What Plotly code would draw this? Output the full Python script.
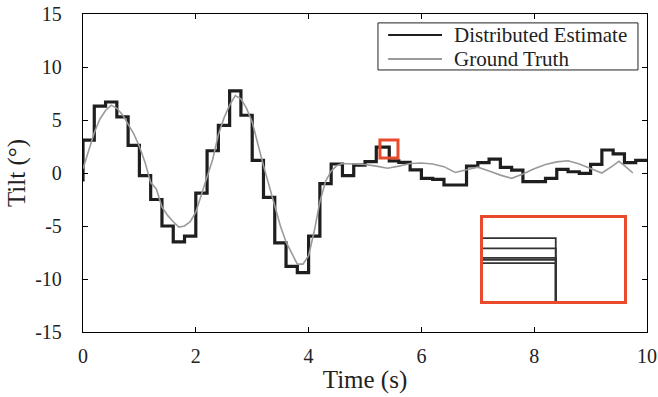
import plotly.graph_objects as go

# ---- data ----
est_t = [0.0, 0.0, 0.2, 0.4, 0.6, 0.8, 1.0, 1.2, 1.4, 1.6, 1.8, 2.0, 2.2, 2.4, 2.6, 2.8,
         3.0, 3.2, 3.4, 3.6, 3.8, 4.0, 4.2, 4.4, 4.6, 4.8, 5.0, 5.2, 5.43, 5.6, 5.8,
         6.0, 6.2, 6.4, 6.6, 6.8, 7.0, 7.2, 7.4, 7.6, 7.8, 8.0, 8.2, 8.4, 8.6, 8.8,
         9.0, 9.2, 9.4, 9.6, 9.8, 10.0]
est_v = [-0.8, 3.1, 6.3, 6.7, 5.3, 2.6, -0.25, -2.5, -5.0, -6.5, -5.95, -1.9, 2.1, 4.5,
         7.75, 5.45, 1.2, -2.3, -6.6, -8.8, -9.4, -5.95, -1.0, 0.85, -0.25, 0.75, 1.07,
         2.45, 1.15, 1.0, 0.3, -0.5, -0.6, -1.13, -1.13, 0.66, 0.97, 1.3, 0.54, 0.28,
         -0.82, -0.82, -0.5, 0.35, 0.12, -0.03, 0.82, 2.17, 1.8, 0.97, 1.2, 1.2]

gt_t = [0.0, 0.1, 0.2, 0.3, 0.4, 0.5, 0.6, 0.7, 0.8, 0.9, 1.0, 1.1, 1.2, 1.3, 1.4, 1.5,
        1.6, 1.7, 1.8, 1.9, 2.0, 2.1, 2.2, 2.3, 2.4, 2.5, 2.6, 2.7, 2.8, 2.9, 3.0, 3.1,
        3.2, 3.3, 3.4, 3.5, 3.6, 3.7, 3.8, 3.9, 4.0, 4.1, 4.2, 4.3, 4.4, 4.5, 4.6, 4.8,
        5.0, 5.2, 5.4, 5.6, 5.8, 6.0, 6.2, 6.4, 6.6, 6.8, 7.0, 7.2, 7.4, 7.6, 7.8, 8.0,
        8.2, 8.4, 8.6, 8.8, 9.0, 9.2, 9.4, 9.5, 9.6, 9.75]
gt_v = [0.4, 2.2, 3.8, 5.1, 5.9, 6.4, 6.1, 5.5, 4.6, 3.7, 2.5, 1.0, -0.9, -1.5, -3.2, -4.0,
        -4.6, -5.1, -5.0, -4.6, -3.7, -2.0, -0.5, 1.3, 3.6, 5.2, 6.4, 7.3, 7.0, 6.1, 4.8, 2.7,
        0.7, -1.2, -3.2, -5.0, -6.5, -7.6, -8.6, -8.6, -7.8, -5.5, -2.7, -0.8, 0.2, 0.7, 0.9, 0.85,
        0.8, 0.65, 0.45, 0.65, 0.9, 0.95, 0.85, 0.6, 0.05, 0.3, 0.55, 0.2, -0.2, -0.5, -0.1, 0.4,
        0.8, 1.05, 1.15, 0.85, 0.4, 0.0, 0.7, 1.1, 0.7, 0.0]

# individual node estimates inside the zoomed window (step 5.2 -> 5.43 s)
zoom_x = [5.265, 5.585]
zoom_y = [1.42, 3.11]
agent_start, agent_drop, agent_next = 5.2, 5.43, 1.15
agent_vals = [2.70, 2.49, 2.30, 2.26, 2.19]

x_ticks = [0, 2, 4, 6, 8, 10]
x_tick_labels = ["0", "2", "4", "6", "8", "10"]
y_ticks = [-15, -10, -5, 0, 5, 10, 15]
y_tick_labels = ["-15", "-10", "-5", "0", "5", "10", "15"]
legend_names = ["Distributed Estimate", "Ground Truth"]

BLACK = "#1e1e1e"
GRAY = "#9a9a9a"
RED = "#ea4a2c"
FONT = "Liberation Serif"

fig = go.Figure()

fig.add_trace(go.Scatter(x=est_t, y=est_v, mode="lines", line=dict(color=BLACK, width=3.2, shape="hv"),
                         name=legend_names[0], showlegend=False, xaxis="x", yaxis="y"))
fig.add_trace(go.Scatter(x=gt_t, y=gt_v, mode="lines", line=dict(color=GRAY, width=1.6),
                         name=legend_names[1], showlegend=False, xaxis="x", yaxis="y"))

for v in agent_vals:
    fig.add_trace(go.Scatter(x=[agent_start, agent_drop, agent_drop], y=[v, v, agent_next],
                             mode="lines", line=dict(color="#333333", width=1.8),
                             showlegend=False, xaxis="x2", yaxis="y2"))

fig.add_shape(type="rect", xref="x", yref="y", x0=zoom_x[0], x1=zoom_x[1], y0=zoom_y[0], y1=zoom_y[1],
              line=dict(color=RED, width=3))

# legend box drawn by hand (paper coordinates of the plot area)
fig.add_shape(type="rect", xref="paper", yref="paper", x0=0.523, x1=0.984, y0=0.824, y1=0.972,
              line=dict(color="#222", width=1), fillcolor="white", layer="above")
for i, (name, col) in enumerate(zip(legend_names, [BLACK, GRAY])):
    yy = 0.934 - i * 0.0755
    fig.add_shape(type="line", xref="paper", yref="paper", x0=0.541, x1=0.6365, y0=yy, y1=yy,
                  line=dict(color=col, width=1.8), layer="above")
    fig.add_annotation(xref="paper", yref="paper", x=0.655, y=yy, text=name, showarrow=False,
                       xanchor="left", yanchor="middle", font=dict(family=FONT, size=21, color="#222"))

axis_common = dict(showline=True, linecolor="black", linewidth=1.3, mirror="ticks", ticks="inside",
                   ticklen=5, tickwidth=1, tickcolor="black", showgrid=False, zeroline=False,
                   automargin=False, ticklabeloverflow="allow",
                   tickfont=dict(family=FONT, size=20, color="#222"))

fig.update_layout(
    width=658, height=397,
    margin=dict(l=83, r=11, t=14, b=65, autoexpand=False),
    paper_bgcolor="white", plot_bgcolor="white",
    font=dict(family=FONT, color="#222"),
    showlegend=False,
    xaxis=dict(range=[0, 10], tickvals=x_ticks, ticktext=x_tick_labels, domain=[0, 1],
               title=dict(text="Time (s)", font=dict(family=FONT, size=25), standoff=4),
               ticklabelstandoff=6, **axis_common),
    yaxis=dict(range=[-15, 15], tickvals=y_ticks, ticktext=y_tick_labels, domain=[0, 1],
               title=dict(text="Tilt (°)", font=dict(family=FONT, size=25), standoff=2),
               ticklabelstandoff=16, **axis_common),
    xaxis2=dict(domain=[0.709, 0.9596], anchor="y2", range=zoom_x, showline=True, linecolor=RED,
                linewidth=3, mirror=True, showticklabels=False, ticks="", showgrid=False, zeroline=False),
    yaxis2=dict(domain=[0.0975, 0.3585], anchor="x2", range=zoom_y, showline=True, linecolor=RED,
                linewidth=3, mirror=True, showticklabels=False, ticks="", showgrid=False, zeroline=False),
)

fig.write_html("out.html", config={"displayModeBar": False},
               post_script="document.body.style.margin='0';document.body.style.overflow='hidden';")
